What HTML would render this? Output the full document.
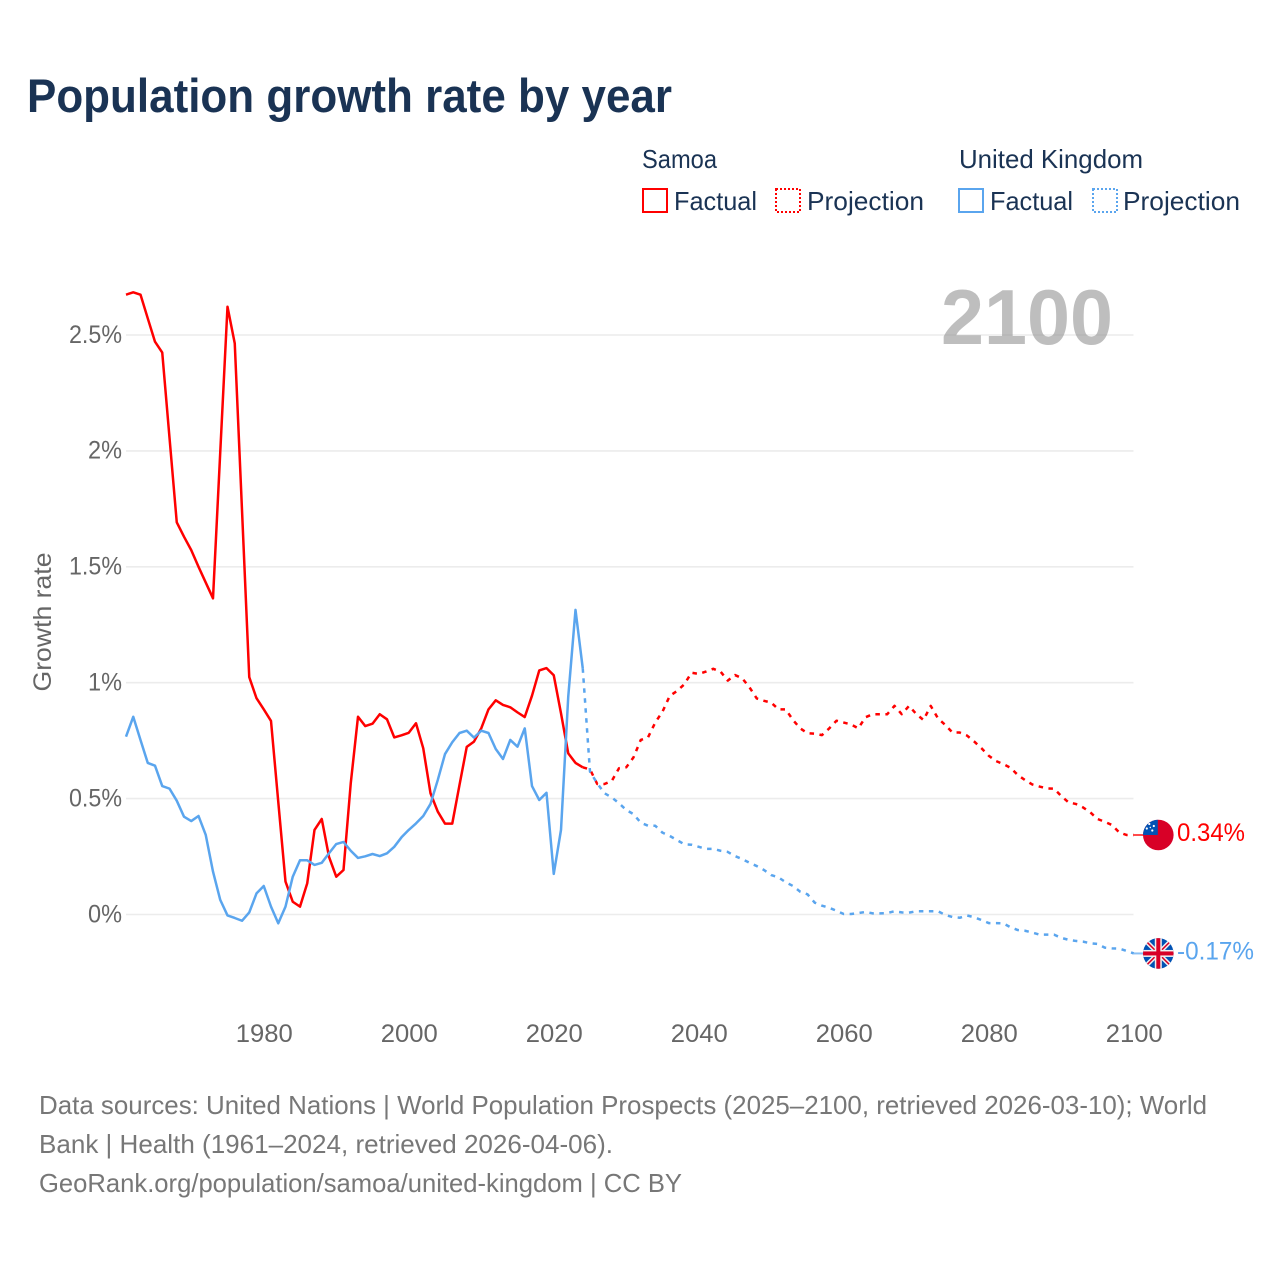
<!DOCTYPE html>
<html lang="en">
<head>
<meta charset="utf-8">
<title>Population growth rate by year</title>
<style>
html,body{margin:0;padding:0;background:#fff;}
svg{display:block;font-family:"Liberation Sans",sans-serif;}
</style>
</head>
<body>
<svg id="chart" xmlns="http://www.w3.org/2000/svg" width="1280" height="1280" viewBox="0 0 1280 1280">
  <defs>
    <clipPath id="samoa-clip"><circle cx="0" cy="0" r="15.3"/></clipPath>
    <clipPath id="uk-clip"><circle cx="0" cy="0" r="15.3"/></clipPath>
  </defs>
  <rect width="1280" height="1280" fill="#ffffff"/>
  <text x="27" y="112" font-size="47" font-weight="700" fill="#1a3354" textLength="645" lengthAdjust="spacingAndGlyphs">Population growth rate by year</text>

  <g font-size="26" fill="#1a3354">
    <text x="642" y="168" textLength="75" lengthAdjust="spacingAndGlyphs">Samoa</text>
    <text x="959" y="168" textLength="184" lengthAdjust="spacingAndGlyphs">United Kingdom</text>
    <rect x="643" y="189" width="24" height="23" fill="none" stroke="#ff0000" stroke-width="2"/>
    <text x="674" y="210" textLength="83" lengthAdjust="spacingAndGlyphs">Factual</text>
    <rect x="776" y="189" width="24" height="23" fill="none" stroke="#ff0000" stroke-width="2" stroke-dasharray="2 2"/>
    <text x="807" y="210" textLength="117" lengthAdjust="spacingAndGlyphs">Projection</text>
    <rect x="959" y="189" width="24" height="23" fill="none" stroke="#5aa5ee" stroke-width="2"/>
    <text x="990" y="210" textLength="83" lengthAdjust="spacingAndGlyphs">Factual</text>
    <rect x="1093" y="189" width="24" height="23" fill="none" stroke="#5aa5ee" stroke-width="2" stroke-dasharray="2 2"/>
    <text x="1123" y="210" textLength="117" lengthAdjust="spacingAndGlyphs">Projection</text>
  </g>

  <g id="grid"></g>
  <text x="941" y="344" font-size="78" font-weight="700" fill="#888888" fill-opacity="0.55" textLength="172" lengthAdjust="spacingAndGlyphs">2100</text>
  <g id="y-ticks" font-size="25" fill="#666666"></g>
  <g id="x-ticks" font-size="25" fill="#666666"></g>
  <text transform="translate(51,622) rotate(-90)" text-anchor="middle" font-size="25" fill="#666666" textLength="139" lengthAdjust="spacingAndGlyphs">Growth rate</text>
  <g id="series"></g>
  <g id="ends"></g>

  <g font-size="26" fill="#777777">
    <text x="39" y="1114" textLength="1168" lengthAdjust="spacingAndGlyphs">Data sources: United Nations | World Population Prospects (2025–2100, retrieved 2026-03-10); World</text>
    <text x="39" y="1153" textLength="574" lengthAdjust="spacingAndGlyphs">Bank | Health (1961–2024, retrieved 2026-04-06).</text>
    <text x="39" y="1192" textLength="643" lengthAdjust="spacingAndGlyphs">GeoRank.org/population/samoa/united-kingdom | CC BY</text>
  </g>
</svg>

<script>
const factualStartYear = 1961;
const projectionStartYear = 2024;
const yTickValues = [0, 0.5, 1, 1.5, 2, 2.5];
const yTickLabels = ['0%', '0.5%', '1%', '1.5%', '2%', '2.5%'];
const xTickYears = [1980, 2000, 2020, 2040, 2060, 2080, 2100];
const xTickLabels = ['1980', '2000', '2020', '2040', '2060', '2080', '2100'];

const samoaFactual = [2.674,2.684,2.674,2.572,2.471,2.424,2.057,1.692,1.63,1.572,1.50,1.432,1.364,1.995,2.622,2.464,1.745,1.024,0.933,0.885,0.835,0.487,0.142,0.055,0.034,0.135,0.365,0.412,0.249,0.163,0.192,0.566,0.853,0.813,0.823,0.864,0.842,0.764,0.773,0.784,0.825,0.717,0.523,0.444,0.392,0.392,0.559,0.723,0.746,0.803,0.885,0.924,0.904,0.894,0.872,0.852,0.944,1.053,1.063,1.032,0.868,0.695,0.654,0.635];
const ukFactual = [0.767,0.853,0.753,0.654,0.642,0.554,0.543,0.491,0.422,0.403,0.425,0.343,0.185,0.063,-0.004,-0.015,-0.027,0.009,0.091,0.123,0.034,-0.038,0.034,0.163,0.234,0.234,0.214,0.223,0.264,0.304,0.313,0.275,0.244,0.251,0.261,0.252,0.264,0.292,0.333,0.365,0.393,0.425,0.477,0.58,0.692,0.743,0.783,0.793,0.763,0.793,0.783,0.714,0.671,0.753,0.724,0.803,0.554,0.494,0.525,0.175,0.365,0.94,1.314,1.062];
const samoaProjection = [0.635,0.626,0.563,0.563,0.576,0.631,0.635,0.678,0.753,0.764,0.828,0.875,0.943,0.964,0.993,1.043,1.038,1.048,1.060,1.048,1.009,1.033,1.019,0.98,0.932,0.922,0.914,0.885,0.885,0.839,0.803,0.782,0.78,0.774,0.803,0.836,0.828,0.82,0.803,0.851,0.864,0.864,0.864,0.90,0.864,0.90,0.865,0.839,0.90,0.846,0.818,0.785,0.785,0.772,0.746,0.717,0.685,0.662,0.649,0.633,0.602,0.58,0.561,0.552,0.544,0.543,0.511,0.484,0.477,0.462,0.441,0.412,0.40,0.386,0.354,0.343,0.343];
const ukProjection = [1.062,0.616,0.566,0.523,0.505,0.48,0.451,0.433,0.396,0.383,0.383,0.353,0.339,0.321,0.303,0.301,0.292,0.283,0.283,0.275,0.27,0.252,0.239,0.223,0.209,0.192,0.17,0.16,0.139,0.123,0.098,0.087,0.051,0.038,0.029,0.016,0.002,0.002,0.006,0.011,0.005,0.005,0.006,0.014,0.009,0.008,0.014,0.014,0.014,0.014,-0.002,-0.011,-0.014,-0.004,-0.012,-0.024,-0.037,-0.037,-0.038,-0.055,-0.067,-0.07,-0.078,-0.087,-0.087,-0.087,-0.101,-0.109,-0.114,-0.117,-0.124,-0.127,-0.143,-0.146,-0.147,-0.157,-0.168];
const endLabels = ['0.34%', '-0.17%'];

const NS = 'http://www.w3.org/2000/svg';
const RED = '#ff0000';
const BLUE = '#5aa5ee';

function xScale(year) { return 126 + (year - 1961) * 7.25; }
function yScale(value) { return 914.5 - value * 231.8; }

function svgEl(tag, attrs) {
  const el = document.createElementNS(NS, tag);
  for (const k in attrs) el.setAttribute(k, attrs[k]);
  return el;
}

function linePath(values, startYear) {
  return values.map(function (v, i) {
    return (i ? 'L' : 'M') + xScale(startYear + i).toFixed(2) + ' ' + yScale(v).toFixed(2);
  }).join(' ');
}

const grid = document.getElementById('grid');
const yTicks = document.getElementById('y-ticks');
yTickValues.forEach(function (v, i) {
  const line = svgEl('line', { x1: 126, x2: 1133.5, y1: yScale(v), y2: yScale(v), stroke: '#ececec', 'stroke-width': 1.6 });
  
  
  grid.appendChild(line);
  const t = svgEl('text', { x: 122, y: yScale(v) + 7.8, 'text-anchor': 'end', textLength: yTickLabels[i].indexOf('.') >= 0 ? 53 : 34, lengthAdjust: 'spacingAndGlyphs' });
  
  
  t.textContent = yTickLabels[i];
  yTicks.appendChild(t);
});

const xTicks = document.getElementById('x-ticks');
xTickYears.forEach(function (yr, i) {
  const t = svgEl('text', { x: xScale(yr) + 0.5, y: 1042, 'text-anchor': 'middle', textLength: 57, lengthAdjust: 'spacingAndGlyphs' });
  
  
  t.textContent = xTickLabels[i];
  xTicks.appendChild(t);
});

const seriesGroup = document.getElementById('series');
function drawLine(values, startYear, color, dashed, name) {
  const p = svgEl('path', { d: linePath(values, startYear), fill: 'none', stroke: color, 'stroke-width': 2.5, 'stroke-linejoin': 'round' });
  if (dashed) p.setAttribute('stroke-dasharray', '4.5 5.5');
  
  
  seriesGroup.appendChild(p);
}
drawLine(samoaProjection, projectionStartYear, RED, true, 'samoa-projection-line');
drawLine(samoaFactual, factualStartYear, RED, false, 'samoa-factual-line');
drawLine(ukProjection, projectionStartYear, BLUE, true, 'uk-projection-line');
drawLine(ukFactual, factualStartYear, BLUE, false, 'uk-factual-line');

const ends = document.getElementById('ends');
const endYear = projectionStartYear + samoaProjection.length - 1;
const samoaEndY = yScale(samoaProjection[samoaProjection.length - 1]);
const ukEndY = yScale(ukProjection[ukProjection.length - 1]);

function drawEnd(y, color, label, labelWidth, flagMarkup, flagName, labelName, leaderName) {
  const leader = svgEl('line', { x1: xScale(endYear), x2: 1144, y1: y, y2: y, stroke: color, 'stroke-width': 2, opacity: 0.7 });
  
  
  ends.appendChild(leader);
  const g = svgEl('g', { transform: 'translate(1158.3,' + y + ')' });
  
  
  g.innerHTML = flagMarkup;
  ends.appendChild(g);
  const t = svgEl('text', { x: 1177, y: y + 6.2, 'font-size': 25, fill: color, textLength: labelWidth, lengthAdjust: 'spacingAndGlyphs' });
  
  
  t.textContent = label;
  ends.appendChild(t);
}

const samoaFlag = '<g clip-path="url(#samoa-clip)">' +
  '<rect x="-16" y="-16" width="32" height="32" fill="#d80027"/>' +
  '<rect x="-16" y="-16" width="15.5" height="16" fill="#0052b4"/>' +
  '<circle cx="-9" cy="-11" r="1.1" fill="#fff"/><circle cx="-4.5" cy="-9" r="1.1" fill="#fff"/>' +
  '<circle cx="-11.5" cy="-6.5" r="1.1" fill="#fff"/><circle cx="-6" cy="-4.5" r="1.1" fill="#fff"/>' +
  '<circle cx="-8" cy="-7.5" r="0.7" fill="#fff"/></g>';

const ukFlag = '<g clip-path="url(#uk-clip)">' +
  '<rect x="-16" y="-16" width="32" height="32" fill="#0052b4"/>' +
  '<path d="M-16 -16L16 16M16 -16L-16 16" stroke="#f0f0f0" stroke-width="4.5"/>' +
  '<path d="M-16 -16L-2 -2M2 2L16 16M16 -16L2 -2M-2 2L-16 16" stroke="#d80027" stroke-width="1.5"/>' +
  '<rect x="-16" y="-3.5" width="32" height="7" fill="#f0f0f0"/>' +
  '<rect x="-3.5" y="-16" width="7" height="32" fill="#f0f0f0"/>' +
  '<rect x="-16" y="-2" width="32" height="4" fill="#d80027"/>' +
  '<rect x="-2" y="-16" width="4" height="32" fill="#d80027"/></g>';

drawEnd(samoaEndY, RED, endLabels[0], 68, samoaFlag, 'samoa-flag', 'samoa-end-value', 'samoa-end-leader');
drawEnd(ukEndY, BLUE, endLabels[1], 77, ukFlag, 'uk-flag', 'uk-end-value', 'uk-end-leader');
</script>
</body>
</html>
